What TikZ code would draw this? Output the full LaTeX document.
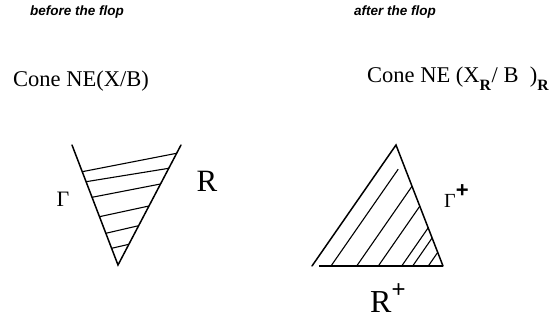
\documentclass[tikz,border=0pt]{standalone}
\usepackage{fontspec}
\setmainfont{Liberation Serif}
\newfontfamily\capfont{Liberation Sans}

\begin{document}
\begin{tikzpicture}[x=1pt,y=-1pt]

    % Frame: 1 unit = 1pt, y grows downwards, 552 x 320
    \useasboundingbox (0,0) rectangle (552,320);

    % Styles for captions, labels and lines
    \tikzset{
        capt/.style={font=\capfont\bfseries\itshape\fontsize{13.5}{15}\selectfont, inner sep=0pt},
        cone/.style={font=\fontsize{22.5}{26}\selectfont, inner sep=0pt, anchor=base west},
        edge/.style={line width=1.5pt, line cap=round},
        hatch/.style={line width=1.1pt}
    }

    % --- captions ---
    \node[capt] (before) at (77,12) {before the flop};
    \node[capt] (after) at (395,12) {after the flop};

    \node[cone] (coneL) at (13,87) {Cone NE(X/B)};
    \node[cone] (coneR) at (367,83)
        {Cone NE (X\raisebox{-0.2em}{\textsubscript{\textbf{R}}}/ B~ )\raisebox{-0.2em}{\textsubscript{\textbf{R}}}};

    % --- before the flop: cone opening upwards, apex at (118,265) ---
    \draw[edge] (72,145) -- (118,265) -- (181,145);
    \draw[hatch] (82.2,171.7) -- (176.6,153.3);
    \draw[hatch] (86.1,181.7) -- (168.8,168.3);
    \draw[hatch] (92.0,197.3) -- (160.5,184.0);
    \draw[hatch] (99.4,216.7) -- (149.0,206.0);
    \draw[hatch] (105.8,233.3) -- (138.6,225.7);
    \draw[hatch] (111.6,248.3) -- (128.9,244.3);

    \node[font=\fontsize{22}{24}\selectfont, inner sep=0pt] (gamma) at (63,199) {Γ};
    \node[font=\fontsize{31}{34}\selectfont, inner sep=0pt] (ray) at (207,181) {R};

    % --- after the flop: triangle on base y=266, apex at (396,145) ---
    \draw[edge] (312,266) -- (396,145) -- (443,266);
    \draw[line width=2.2pt] (319,266) -- (443,266);
    \draw[hatch] (331.0,266) -- (398.2,169.2);
    \draw[hatch] (356.7,266) -- (412.0,186.3);
    \draw[hatch] (378.3,266) -- (419.8,206.2);
    \draw[hatch] (401.7,266) -- (428.2,227.8);
    \draw[hatch] (412.7,266) -- (432.1,238.0);
    \draw[hatch] (428.3,266) -- (437.7,252.4);

    \node[font=\fontsize{20}{24}\selectfont, inner sep=0pt, anchor=west] (gammaplus) at (444,196)
        {Γ\raisebox{0.5em}{\capfont\bfseries\fontsize{22}{24}\selectfont +}};
    \node[font=\fontsize{32}{36}\selectfont, inner sep=0pt, anchor=west] (rayplus) at (370,298)
        {R\raisebox{0.45em}{\capfont\fontsize{24}{26}\selectfont +}};

\end{tikzpicture}
\end{document}
